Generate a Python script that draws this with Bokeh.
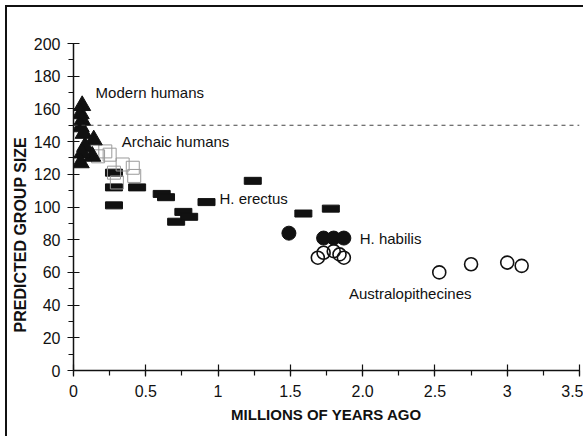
from bokeh.embed import file_html
from bokeh.models import FixedTicker, InlineStyleSheet, Range1d, Span, Label, Title
from bokeh.plotting import figure
from bokeh.resources import INLINE

# ---- data -------------------------------------------------------------
# Modern humans (filled triangles)
modern_mya = [0.06, 0.05, 0.06, 0.05, 0.07, 0.14, 0.08, 0.13, 0.06, 0.05]
modern_group = [162, 157, 153, 149, 145, 141, 137, 131, 133, 127]

# Archaic humans (open squares)
archaic_mya = [0.17, 0.22, 0.25, 0.34, 0.41, 0.28, 0.42, 0.30]
archaic_group = [131, 134, 132, 126, 124, 121, 119, 115]

# H. erectus (black bars)
erectus_mya = [0.28, 0.28, 0.28, 0.44, 0.61, 0.64, 0.71, 0.76, 0.80, 0.92, 1.24, 1.59, 1.78]
erectus_group = [121, 112, 101, 112, 108, 106, 91, 97, 94, 103, 116, 96, 99]

# H. habilis (filled circles)
habilis_mya = [1.49, 1.73, 1.80, 1.87]
habilis_group = [84, 81, 81, 81]

# Australopithecines (open circles)
australo_mya = [1.69, 1.73, 1.80, 1.84, 1.87, 2.53, 2.75, 3.00, 3.10]
australo_group = [69, 72, 73, 71, 69, 60, 65, 66, 64]

# group-size threshold line
threshold = 150

x_ticks = [0, 0.5, 1, 1.5, 2, 2.5, 3, 3.5]
x_tick_labels = ["0", "0.5", "1", "1.5", "2.0", "2.5", "3", "3.5"]
y_ticks = [0, 20, 40, 60, 80, 100, 120, 140, 160, 180, 200]

# species labels: (text, left x, centre y)
species_labels = [
    ("Modern humans", 0.153, 170),
    ("Archaic humans", 0.334, 140),
    ("H. erectus", 1.01, 105.5),
    ("H. habilis", 1.98, 80.5),
    ("Australopithecines", 1.905, 47),
]

FONT = "Liberation Sans"
INK = "#111111"

# ---- figure -----------------------------------------------------------
frame_css = InlineStyleSheet(css=":host { border-top: 2px solid #111; border-left: 2px solid #111; }")

p = figure(
    width=578, height=431,
    x_range=Range1d(0, 3.5), y_range=Range1d(0, 200),
    output_backend="svg", toolbar_location=None,
    min_border_left=65, min_border_right=6, min_border_top=36, min_border_bottom=68,
    stylesheets=[frame_css],
)
p.margin = (5, 0, 0, 5)
p.outline_line_color = None
p.background_fill_color = "white"
p.border_fill_color = "white"
p.xgrid.visible = False
p.ygrid.visible = False

# axes
p.xaxis.ticker = FixedTicker(ticks=x_ticks, minor_ticks=[i * 0.25 for i in range(15)])
p.xaxis.major_label_overrides = dict(zip(x_ticks, x_tick_labels))
p.yaxis.ticker = FixedTicker(ticks=y_ticks, minor_ticks=[10 + 20 * i for i in range(10)])

for ax in (p.xaxis[0], p.yaxis[0]):
    ax.axis_line_color = INK
    ax.axis_line_width = 1.5
    ax.major_tick_line_color = INK
    ax.major_tick_line_width = 1.2
    ax.minor_tick_line_color = INK
    ax.minor_tick_line_width = 1.2
    ax.major_tick_in = 6
    ax.major_tick_out = 6
    ax.minor_tick_in = 0
    ax.minor_tick_out = 5
    ax.major_label_text_font = FONT
    ax.major_label_text_font_size = "16px"
    ax.major_label_text_color = INK

p.xaxis.major_label_standoff = 8
p.yaxis.major_label_standoff = 7

p.xaxis.axis_label = "MILLIONS OF YEARS AGO"
p.xaxis.axis_label_text_font = FONT
p.xaxis.axis_label_text_font_style = "bold"
p.xaxis.axis_label_text_font_size = "15px"
p.xaxis.axis_label_text_color = INK
p.xaxis.axis_label_standoff = 6

# vertical axis title, set beside the tick labels and a little below centre
ytitle = Title(text="PREDICTED GROUP SIZE", align="left", offset=38,
               text_font=FONT, text_font_style="bold", text_font_size="16px",
               text_color=INK, standoff=4)
p.add_layout(ytitle, "left")

# threshold
p.add_layout(Span(location=threshold, dimension="width", line_color="#444444",
                  line_width=1, line_dash="4 4"))

# markers
p.rect(erectus_mya, erectus_group, width=17, height=7,
       width_units="screen", height_units="screen",
       fill_color=INK, line_color=INK)
p.scatter(archaic_mya, archaic_group, marker="square", size=13,
          fill_color=None, line_color="#9a9a9a", line_width=1)
p.scatter(modern_mya, modern_group, marker="triangle", size=17,
          fill_color=INK, line_color=INK)
p.scatter(habilis_mya, habilis_group, marker="circle", size=14,
          fill_color=INK, line_color=INK)
p.scatter(australo_mya, australo_group, marker="circle", size=13,
          fill_color=None, line_color=INK, line_width=1.6)

# species labels
for t, x, y in species_labels:
    p.add_layout(Label(x=x, y=y, text=t, text_font=FONT, text_font_size="15px",
                       text_color=INK, text_baseline="middle", text_align="left"))

open("out.html", "w").write(file_html(p, INLINE))
